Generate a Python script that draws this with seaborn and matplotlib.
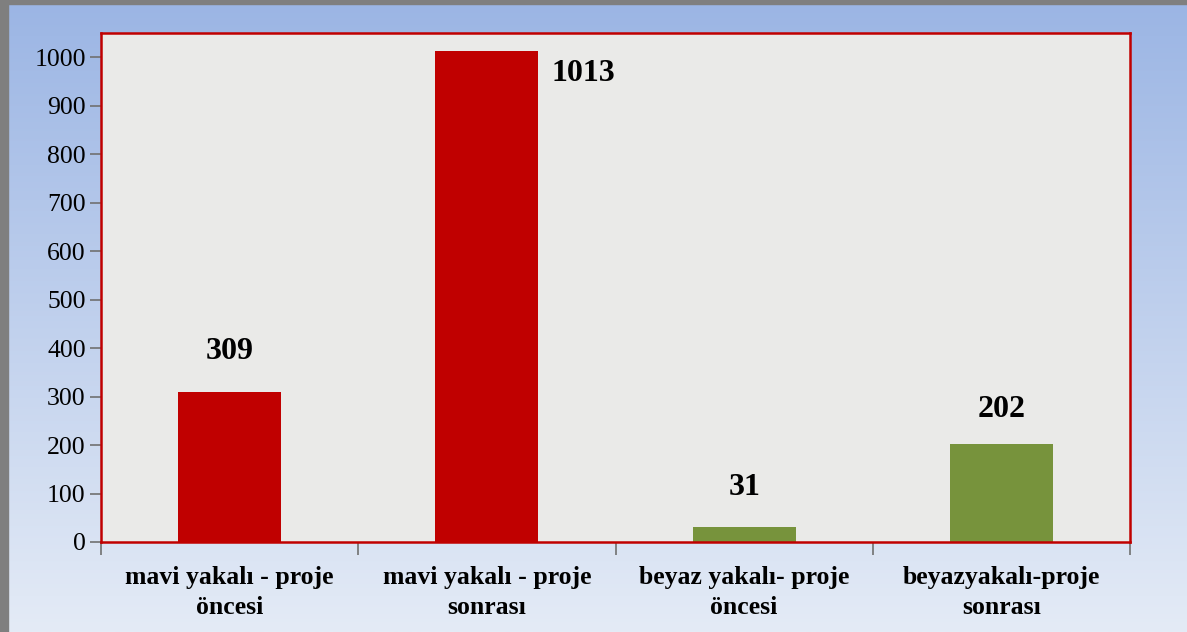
import numpy as np
import pandas as pd
import matplotlib
matplotlib.use("Agg")
import matplotlib.pyplot as plt
from matplotlib.patches import Rectangle
import seaborn as sns

# --- data ---
categories = ["mavi yakalı - proje\nöncesi", "mavi yakalı - proje\nsonrası",
              "beyaz yakalı- proje\nöncesi", "beyazyakalı-proje\nsonrası"]
values = [309, 1013, 31, 202]
bar_colors = ["#C00000", "#C00000", "#77933C", "#77933C"]
yticks = list(range(0, 1001, 100))

df = pd.DataFrame({"kategori": categories, "deger": values})

sns.set_style("white")
plt.rcParams["font.family"] = ["Liberation Serif", "DejaVu Serif"]
plt.rcParams["text.color"] = "black"
plt.rcParams["xtick.color"] = "black"
plt.rcParams["ytick.color"] = "black"

W, H = 1187, 632
fig = plt.figure(figsize=(W / 100, H / 100), dpi=100)

# blue gradient background
bg = fig.add_axes([0, 0, 1, 1], zorder=-2)
top = np.array([155, 181, 228]) / 255
bot = np.array([228, 235, 246]) / 255
t = np.linspace(0, 1, 256)[:, None]
grad = (top * (1 - t) + bot * t)[:, None, :]
bg.imshow(grad, aspect="auto", extent=[0, 1, 0, 1])
# gray frame top / left
bg.add_patch(Rectangle((0, 1 - 4 / H), 1, 4 / H, color="#7F7F7F", transform=bg.transAxes))
bg.add_patch(Rectangle((0, 0), 8 / W, 1, color="#7F7F7F", transform=bg.transAxes))
bg.set_xlim(0, 1)
bg.set_ylim(0, 1)
bg.axis("off")

ax = fig.add_axes([101 / W, 90 / H, 1029 / W, 509 / H])
ax.set_facecolor("#EAEAE8")
sns.barplot(data=df, x="kategori", y="deger", hue="kategori",
            palette=bar_colors, width=0.4, legend=False, ax=ax,
            saturation=1, linewidth=0, edgecolor="none")

ax.set_ylim(0, 1050)
ax.set_xlim(-0.5, len(categories) - 0.5)
ax.set_yticks(yticks)
ax.set_yticklabels([str(v) for v in yticks], fontsize=18.5)
ax.set_xlabel("")
ax.set_ylabel("")

# x ticks at category boundaries, labels at centres
ax.set_xticks(np.arange(-0.5, len(categories), 1.0))
ax.set_xticklabels([])
ax.set_xticks(np.arange(len(categories)), minor=True)
ax.set_xticklabels(categories, minor=True, fontsize=18.5, fontweight="bold",
                   linespacing=1.4)
ax.tick_params(axis="x", which="major", bottom=True, length=9, width=1.2,
               color="#707070", direction="out")
ax.tick_params(axis="x", which="minor", bottom=True, length=0, pad=17)
ax.tick_params(axis="y", left=True, length=8, width=1.2, color="#707070",
               direction="out", pad=3)

for s in ax.spines.values():
    s.set_color("#C00000")
    s.set_linewidth(1.8)

# value labels
offsets = [(0, 41), (97, -23), (0, 39), (0, 35)]
for i, (v, off) in enumerate(zip(values, offsets)):
    ax.annotate(str(v), xy=(i, v), xytext=off, textcoords="offset pixels",
                ha="center", va="center", fontsize=23, fontweight="bold")

fig.savefig("out.png", dpi=100)
